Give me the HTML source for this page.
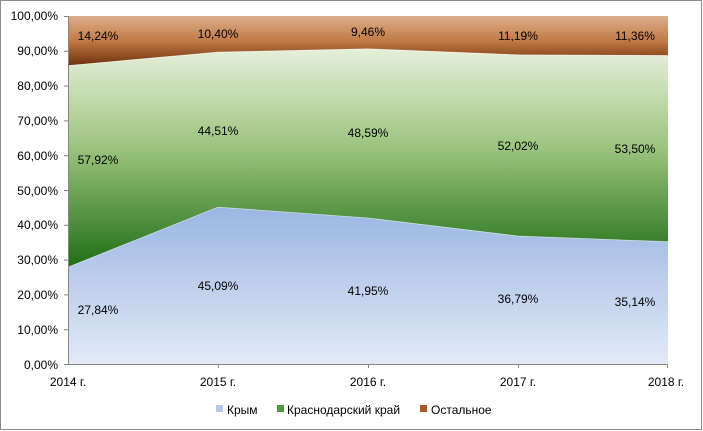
<!DOCTYPE html>
<html><head><style>body{margin:0;background:#fff}svg{display:block;font-family:"Liberation Sans",sans-serif}</style></head><body>
<svg width="703" height="431" viewBox="0 0 703 431">
<defs>
<linearGradient id="gk" x1="0" y1="0" x2="0" y2="1"><stop offset="0" stop-color="#9ab6e2"/><stop offset="1" stop-color="#e2e9f6"/></linearGradient>
<linearGradient id="gg" x1="0" y1="0" x2="0" y2="1"><stop offset="0" stop-color="#e6efda"/><stop offset="0.45" stop-color="#9cc47e"/><stop offset="1" stop-color="#1f6e15"/></linearGradient>
<linearGradient id="go" x1="0" y1="0" x2="0" y2="1"><stop offset="0" stop-color="#dcae8c"/><stop offset="0.5" stop-color="#c27a45"/><stop offset="1" stop-color="#6e300c"/></linearGradient>
</defs>
<rect x="0.5" y="0.5" width="701" height="429" fill="#fff" stroke="#8c8c8c"/>
<polygon points="68,16 668,16 668,55.5 518,54.9 368,48.9 218,52.2 68,65.6" fill="url(#go)"/>
<polygon points="68,65.6 218,52.2 368,48.9 518,54.9 668,55.5 668,241.7 518,236 368,218 218,207.1 68,267.1" fill="url(#gg)"/>
<polygon points="68,267.1 218,207.1 368,218 518,236 668,241.7 668,364 68,364" fill="url(#gk)"/>
<polyline points="68,65.6 218,52.2 368,48.9 518,54.9 668,55.5" fill="none" stroke="#fff" stroke-width="0.8" opacity="0.7"/>
<polyline points="68,267.1 218,207.1 368,218 518,236 668,241.7" fill="none" stroke="#fff" stroke-width="0.8" opacity="0.5"/>
<g stroke="#868686" stroke-width="1">
<line x1="68.5" y1="16" x2="68.5" y2="364"/>
<line x1="68" y1="364.5" x2="668" y2="364.5"/>
<line x1="64" y1="16.5" x2="68" y2="16.5"/><line x1="64" y1="51.3" x2="68" y2="51.3"/><line x1="64" y1="86.1" x2="68" y2="86.1"/><line x1="64" y1="120.9" x2="68" y2="120.9"/><line x1="64" y1="155.7" x2="68" y2="155.7"/><line x1="64" y1="190.5" x2="68" y2="190.5"/><line x1="64" y1="225.3" x2="68" y2="225.3"/><line x1="64" y1="260.1" x2="68" y2="260.1"/><line x1="64" y1="294.9" x2="68" y2="294.9"/><line x1="64" y1="329.7" x2="68" y2="329.7"/><line x1="64" y1="364.5" x2="68" y2="364.5"/>
<line x1="218.5" y1="364" x2="218.5" y2="368"/><line x1="368.5" y1="364" x2="368.5" y2="368"/><line x1="518.5" y1="364" x2="518.5" y2="368"/><line x1="667.5" y1="364" x2="667.5" y2="368"/>
</g>
<g font-size="12" fill="#000" text-anchor="end">
<text x="58" y="20">100,00%</text><text x="58" y="55">90,00%</text><text x="58" y="90">80,00%</text><text x="58" y="125">70,00%</text><text x="58" y="160">60,00%</text><text x="58" y="195">50,00%</text><text x="58" y="229">40,00%</text><text x="58" y="264">30,00%</text><text x="58" y="299">20,00%</text><text x="58" y="334">10,00%</text><text x="58" y="369">0,00%</text>
</g>
<g font-size="12" fill="#000" text-anchor="middle">
<text x="68" y="386">2014 г.</text><text x="218" y="386">2015 г.</text><text x="368" y="386">2016 г.</text><text x="518" y="386">2017 г.</text><text x="666" y="386">2018 г.</text>
<text x="98" y="40">14,24%</text><text x="218" y="38">10,40%</text><text x="368" y="36">9,46%</text><text x="518" y="40">11,19%</text><text x="635" y="40">11,36%</text>
<text x="98" y="164">57,92%</text><text x="218" y="135">44,51%</text><text x="368" y="137">48,59%</text><text x="518" y="150">52,02%</text><text x="635" y="153">53,50%</text>
<text x="98" y="314">27,84%</text><text x="218" y="290">45,09%</text><text x="368" y="295">41,95%</text><text x="518" y="303">36,79%</text><text x="635" y="306">35,14%</text>
</g>
<g font-size="12" fill="#000">
<rect x="216" y="405" width="7" height="7" fill="#b6c9ea"/><text x="227" y="414">Крым</text>
<rect x="277" y="405" width="7" height="7" fill="#4f9a3a"/><text x="287" y="414">Краснодарский край</text>
<rect x="420" y="405" width="7" height="7" fill="#a85a2a"/><text x="431" y="414">Остальное</text>
</g>
</svg>
</body></html>
